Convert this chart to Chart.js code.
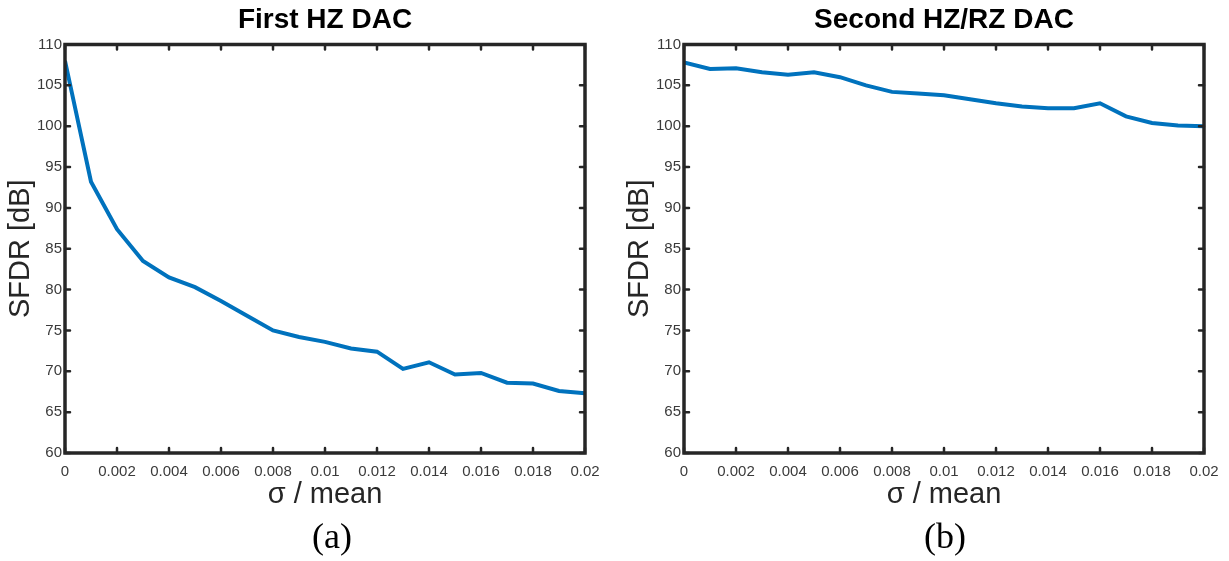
<!DOCTYPE html>
<html>
<head>
<meta charset="utf-8">
<script src="https://cdn.jsdelivr.net/npm/chart.js@4.4.1/dist/chart.umd.min.js"></script>
<style>
  html, body { margin: 0; padding: 0; background: #fff; overflow: hidden; }
  body { width: 1229px; height: 561px; position: relative; }
  .box { position: absolute; top: 0; width: 610px; height: 561px; }
  .cap { position: absolute; top: 515px; font-family: "Liberation Serif", "Times New Roman", serif;
         font-size: 36px; line-height: 42px; color: #000; transform: translateX(-50%); }
</style>
</head>
<body>
<div class="box" style="left:0"><canvas id="chartA"></canvas></div>
<div class="box" style="left:619px"><canvas id="chartB"></canvas></div>
<div class="cap" style="left:332px">(a)</div>
<div class="cap" style="left:945px">(b)</div>

<script>
// sigma / mean
var sigma = [0, 0.001, 0.002, 0.003, 0.004, 0.005, 0.006, 0.007, 0.008, 0.009, 0.01,
             0.011, 0.012, 0.013, 0.014, 0.015, 0.016, 0.017, 0.018, 0.019, 0.02];
// SFDR [dB], first HZ DAC
var sfdrFirst = [108.0, 93.2, 87.4, 83.5, 81.5, 80.3, 78.6, 76.8, 75.0, 74.2, 73.6,
                 72.8, 72.4, 70.3, 71.1, 69.6, 69.8, 68.6, 68.5, 67.6, 67.3];
// SFDR [dB], second HZ/RZ DAC
var sfdrSecond = [107.8, 107.0, 107.1, 106.6, 106.3, 106.6, 106.0, 105.0, 104.2, 104.0, 103.8,
                  103.3, 102.8, 102.4, 102.2, 102.2, 102.8, 101.2, 100.4, 100.1, 100.0];
var titles = ["First HZ DAC", "Second HZ/RZ DAC"];

// matlab style box with inward ticks
var boxPlugin = {
    id: 'boxPlugin',
    afterDatasetsDraw: function (chart) {
        var ctx = chart.ctx, a = chart.chartArea;
        var xs = chart.scales.x, ys = chart.scales.y;
        var len = 5;
        ctx.save();
        ctx.strokeStyle = '#262626';
        ctx.lineWidth = 2.5;
        ctx.lineCap = 'round';
        ctx.beginPath();
        xs.ticks.forEach(function (t) {
            var px = xs.getPixelForValue(t.value);
            ctx.moveTo(px, a.bottom); ctx.lineTo(px, a.bottom - len);
            ctx.moveTo(px, a.top); ctx.lineTo(px, a.top + len);
        });
        ys.ticks.forEach(function (t) {
            var py = ys.getPixelForValue(t.value);
            ctx.moveTo(a.left, py); ctx.lineTo(a.left + len, py);
            ctx.moveTo(a.right, py); ctx.lineTo(a.right - len, py);
        });
        ctx.stroke();
        ctx.lineCap = 'butt';
        ctx.lineWidth = 3.5;
        ctx.strokeRect(a.left, a.top, a.right - a.left, a.bottom - a.top);
        ctx.restore();
    }
};

function makeChart(id, title, values) {
    var pts = sigma.map(function (s, i) { return {x: s, y: values[i]}; });
    return new Chart(document.getElementById(id), {
        type: 'line',
        data: {
            datasets: [{
                data: pts,
                borderColor: '#0072BD',
                borderWidth: 4,
                pointRadius: 0,
                tension: 0
            }]
        },
        options: {
            responsive: false,
            animation: false,
            layout: { padding: { left: 0, right: 25, top: 0, bottom: 0 } },
            plugins: {
                legend: { display: false },
                tooltip: { enabled: false },
                title: {
                    display: true,
                    fullSize: false,
                    text: title,
                    color: '#000',
                    font: { family: 'Liberation Sans, Arial', size: 28, weight: 'bold', lineHeight: 1.2 },
                    padding: { top: 3, bottom: 7.9 }
                }
            },
            scales: {
                x: {
                    type: 'linear',
                    min: 0, max: 0.02,
                    grid: { display: false, drawTicks: false },
                    border: { display: false },
                    ticks: {
                        stepSize: 0.002,
                        padding: 10,
                        color: '#3a3a3a',
                        font: { family: 'Liberation Sans, Arial', size: 15 },
                        maxRotation: 0,
                        callback: function (v) { return String(Number(v.toFixed(3))); }
                    },
                    title: {
                        display: true,
                        text: 'σ / mean',
                        color: '#262626',
                        font: { family: 'Liberation Sans, Arial', size: 29, lineHeight: 1.2 },
                        padding: { top: 0, bottom: 49 }
                    },
                    afterFit: function (s) { s.height = 108; }
                },
                y: {
                    min: 60, max: 110,
                    grid: { display: false, drawTicks: false },
                    border: { display: false },
                    ticks: {
                        stepSize: 5,
                        padding: 3,
                        color: '#3a3a3a',
                        font: { family: 'Liberation Sans, Arial', size: 15 }
                    },
                    title: {
                        display: true,
                        text: 'SFDR [dB]',
                        color: '#262626',
                        font: { family: 'Liberation Sans, Arial', size: 29, lineHeight: 1.2 },
                        padding: { top: 4, bottom: 0 }
                    },
                    afterFit: function (s) { s.width = 65; }
                }
            }
        },
        plugins: [boxPlugin]
    });
}

var cA = document.getElementById('chartA');
var cB = document.getElementById('chartB');
cA.width = 610; cA.height = 561;
cB.width = 610; cB.height = 561;
makeChart('chartA', titles[0], sfdrFirst);
makeChart('chartB', titles[1], sfdrSecond);
</script>
</body>
</html>
